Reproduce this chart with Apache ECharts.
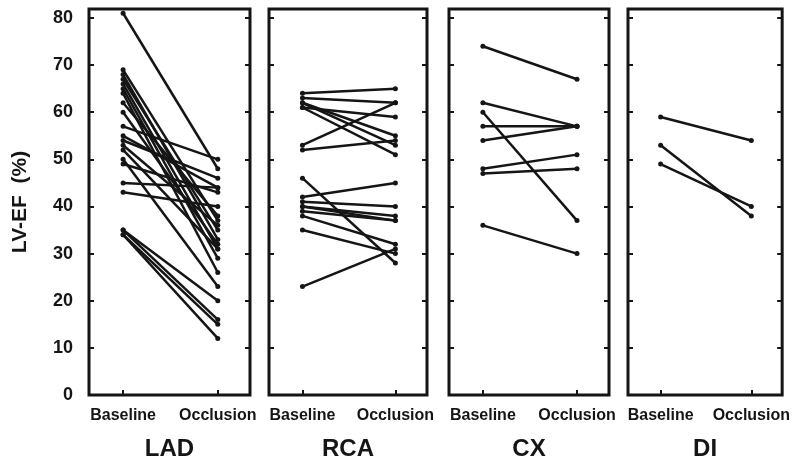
<!DOCTYPE html>
<html>
<head>
<meta charset="utf-8">
<script src="https://cdn.jsdelivr.net/npm/echarts@6/dist/echarts.min.js"></script>
<style>html,body{margin:0;padding:0;background:#fff}#c{width:793px;height:466px}</style>
</head>
<body>
<div id="c"></div>
<script>
const panels = ['LAD', 'RCA', 'CX', 'DI'];
const xCategories = ['Baseline', 'Occlusion'];
const yTicks = [0, 10, 20, 30, 40, 50, 60, 70, 80];

const ladBaseline  = [81, 69, 68, 67, 66, 65, 64, 62, 60, 57, 55, 54, 53, 52, 50, 49, 45, 43, 35, 35, 34, 34];
const ladOcclusion = [48, 37, 33, 35, 31, 29, 26, 38, 32, 50, 44, 46, 36, 31, 23, 43, 44, 40, 20, 16, 15, 12];

const rcaBaseline  = [64, 63, 62, 62, 61, 61, 53, 52, 46, 42, 41, 40, 40, 39, 38, 35, 23];
const rcaOcclusion = [65, 62, 55, 53, 51, 59, 62, 54, 28, 45, 40, 38, 37, 37, 32, 30, 31];

const cxBaseline  = [74, 62, 60, 57, 54, 48, 47, 36];
const cxOcclusion = [67, 57, 37, 57, 57, 51, 48, 30];

const diBaseline  = [59, 53, 49];
const diOcclusion = [54, 38, 40];

const baselines  = [ladBaseline, rcaBaseline, cxBaseline, diBaseline];
const occlusions = [ladOcclusion, rcaOcclusion, cxOcclusion, diOcclusion];

const FONT = '"Liberation Sans", Arial, sans-serif';
const INK = '#151515';
const gridLefts = [89, 269, 449, 628];
const gridWidths = [161, 158, 160, 162];

const grid = [], xAxis = [], yAxis = [], series = [];
panels.forEach((name, p) => {
  grid.push({
    left: gridLefts[p], width: gridWidths[p], top: 9, height: 388,
    show: true, borderColor: INK, borderWidth: 3, backgroundColor: 'transparent'
  });
  xAxis.push({
    type: 'value', gridIndex: p, min: -0.36, max: 1.34, position: 'bottom',
    name: name, nameLocation: 'middle', nameGap: 42,
    nameTextStyle: { fontFamily: FONT, fontWeight: 'bold', fontSize: 24, color: INK },
    axisLine: { show: false, onZero: false },
    splitLine: { show: false },
    axisTick: { show: true, inside: true, length: 5, customValues: [0, 1], lineStyle: { color: INK, width: 2 } },
    axisLabel: {
      show: true, customValues: [0, 1], margin: 13,
      fontFamily: FONT, fontWeight: 'bold', fontSize: 16, color: INK,
      formatter: v => xCategories[Math.round(v)] || ''
    }
  });
  yAxis.push({
    type: 'value', gridIndex: p, min: 0, max: 81.9, position: 'left',
    name: p === 0 ? 'LV-EF  (%)' : '', nameLocation: 'middle', nameGap: 58,
    nameTextStyle: { fontFamily: FONT, fontWeight: 'bold', fontSize: 21, color: INK },
    axisLine: { show: false, onZero: false },
    splitLine: { show: false },
    axisTick: { show: true, inside: true, length: 5, customValues: yTicks, lineStyle: { color: INK, width: 2 } },
    axisLabel: {
      show: p === 0, customValues: yTicks, margin: 16,
      fontFamily: FONT, fontWeight: 'bold', fontSize: 18, color: INK
    }
  });
  yAxis.push({
    type: 'value', gridIndex: p, min: 0, max: 81.9, position: 'right',
    axisLine: { show: false, onZero: false },
    splitLine: { show: false },
    axisTick: { show: true, inside: true, length: 5, customValues: yTicks, lineStyle: { color: INK, width: 2 } },
    axisLabel: { show: false }
  });
  const b = baselines[p], o = occlusions[p];
  for (let i = 0; i < b.length; i++) {
    series.push({
      type: 'line', xAxisIndex: p, yAxisIndex: p * 2,
      data: [[0, b[i]], [1, o[i]]],
      symbol: 'circle', symbolSize: 5, showSymbol: true,
      itemStyle: { color: INK },
      lineStyle: { color: INK, width: 2.5 },
      emphasis: { disabled: true },
      silent: true
    });
  }
});

const chart = echarts.init(document.getElementById('c'), null, { renderer: 'canvas' });
chart.setOption({
  animation: false,
  backgroundColor: '#fff',
  grid, xAxis, yAxis, series
});
</script>
</body>
</html>
